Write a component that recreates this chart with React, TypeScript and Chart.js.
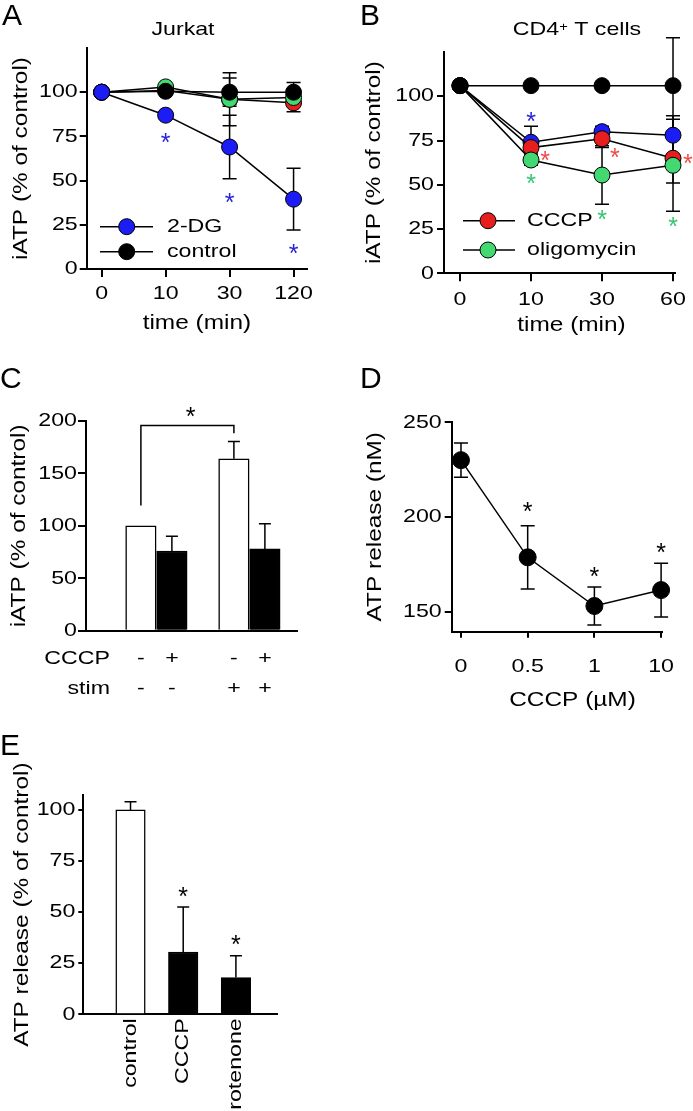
import React, { useEffect, useRef } from 'react';
import { Chart, registerables } from 'chart.js';

Chart.register(...registerables);

const FAMILY = '"Liberation Sans", Arial, Helvetica, sans-serif';
const TICK_SIZE = 19;
const TITLE_SIZE = 20;
const SX = 1.22;

const BLUE = '#1c1cf5';
const RED = '#e61e1e';
const GREEN = '#42d872';
const STAR_BLUE = '#2626d6';
const STAR_RED = '#ef4b4b';
const STAR_GREEN = '#36c574';

// ---------------- Panel A (Jurkat) ----------------
const timeA = ['0', '10', '30', '120'];
const a2DG = [100, 87, 69, 39.5];
const a2DGErr = [0, 2, 18, 17.5];
const aControl = [100, 100.5, 100, 100];
const aControlErr = [0, 1, 8, 5.5];
const aOligomycin = [100, 103, 96, 97];
const aOligomycinErr = [0, 1, 15, 3];
const aCCCP = [100, 101, 96, 94];
const aCCCPErr = [0, 1, 3, 5];
const aStars2DG = [[1, 75], [2, 41], [3, 12.5]];

// ---------------- Panel B (CD4+ T cells) ----------------
const timeB = ['0', '10', '30', '60'];
const bControl = [106, 106, 106, 106];
const bControlErr = [0, 1, 2, 27];
const b2DG = [106, 74, 80, 78];
const b2DGErr = [0, 9, 3, 11];
const bCCCP = [106, 71, 76, 65];
const bCCCPErr = [0, 3, 5, 14];
const bOligomycin = [106, 64, 55.5, 61];
const bOligomycinErr = [0, 3, 16.5, 26];
const bStars2DG = [[1, 89]];
const bStarsCCCP = [[1.2, 67], [2.18, 69], [3.21, 65.5]];
const bStarsOligomycin = [[1, 54], [2, 33.7], [3, 30]];

// ---------------- Panel C ----------------
const cRowCCCP = ['-', '+', '-', '+'];
const cRowStim = ['-', '-', '+', '+'];
const cPositions = [1, 2, 4, 5];
const cValues = [100, 76, 164, 78];
const cErr = [0, 14, 16.5, 24];
const cBracketX = [1, 4];
const cBracketY = [119.3, 195.6, 188.4];
const cStar = [2.6, 210.6];

// ---------------- Panel D ----------------
const dDoses = ['0', '0.5', '1', '10'];
const dValues = [230, 178.7, 153, 161.4];
const dErr = [9, 16.7, 10, 14.2];
const dStars = [[1, 206.3], [2, 171.6], [3, 184.7]];

// ---------------- Panel E ----------------
const eCategories = ['control', 'CCCP', 'rotenone'];
const eValues = [100, 30.5, 18];
const eErr = [4, 22, 10.7];
const eStars = [[1, 60.8], [2, 37.2]];

// ---------------- helpers ----------------
function patchContext(canvas: HTMLCanvasElement) {
  const ctx = canvas.getContext('2d') as any;
  if (ctx.__patched) return ctx;
  const raw = ctx.fillText.bind(ctx);
  ctx.__sx = SX;
  ctx.fillText = function (t: string, x: number, y: number) {
    const sx = ctx.__sx;
    if (sx === 1) return raw(t, x, y);
    ctx.save();
    ctx.translate(x, y);
    ctx.scale(sx, 1);
    raw(t, 0, 0);
    ctx.restore();
  };
  ctx.__patched = true;
  return ctx;
}

const fnt = (size: number) => ({ family: FAMILY, size });

function yAxis(o: any) {
  return {
    type: 'linear',
    position: 'left',
    min: o.min,
    max: o.max,
    afterFit: (s: any) => { s.width = o.width; },
    afterBuildTicks: (s: any) => { s.ticks = o.ticks.map((v: number) => ({ value: v })); },
    ticks: { color: '#000', font: fnt(TICK_SIZE), padding: o.pad, autoSkip: false },
    grid: { display: true, drawOnChartArea: false, drawTicks: true, tickLength: o.tl, color: '#000', lineWidth: 2, tickWidth: 2, tickColor: '#000' },
    border: { display: true, color: '#000', width: 2 },
    title: { display: true, text: o.title, color: '#000', font: fnt(TITLE_SIZE), padding: { top: o.tpt, bottom: 0 } },
  };
}

function xAxis(o: any) {
  return {
    type: 'linear',
    position: 'bottom',
    min: o.min,
    max: o.max,
    offset: false,
    afterFit: (s: any) => { s.height = o.height; },
    afterBuildTicks: (s: any) => { s.ticks = o.ticks.map((v: number) => ({ value: v })); },
    ticks: {
      display: !!o.labels,
      color: '#000',
      font: fnt(TICK_SIZE),
      padding: o.pad,
      autoSkip: false,
      minRotation: o.rotate || 0,
      maxRotation: o.rotate || 0,
      callback: (v: number) => {
        const i = o.ticks.indexOf(v);
        return o.labels && i >= 0 ? o.labels[i] : '';
      },
    },
    grid: { display: true, drawOnChartArea: false, drawTicks: o.tl > 0, tickLength: o.tl, color: '#000', lineWidth: 2, tickWidth: 2, tickColor: '#000', offset: false },
    border: { display: true, color: '#000', width: 2 },
    title: { display: !!o.title, text: o.title || '', color: '#000', font: fnt(TITLE_SIZE), padding: { top: 0, bottom: o.tpb || 0 } },
  };
}

function baseOptions(padding: any, scales: any) {
  return {
    animation: false,
    responsive: false,
    maintainAspectRatio: false,
    events: [],
    layout: { padding },
    plugins: { legend: { display: false }, tooltip: { enabled: false }, title: { display: false } },
    scales,
  };
}

function lineSet(label: string, ys: number[], color: string, radius = 8) {
  return {
    label,
    data: ys.map((y, i) => ({ x: i, y })),
    borderColor: '#000',
    borderWidth: 1.5,
    backgroundColor: color,
    pointRadius: radius,
    pointHoverRadius: radius,
    pointBackgroundColor: color,
    pointBorderColor: '#000',
    pointBorderWidth: 1,
    tension: 0,
    fill: false,
    clip: false,
  };
}

function errPlugin(sets: { ds: number; err: number[]; down: boolean; cap: number }[], after: boolean) {
  const draw = (chart: any) => {
    const { ctx } = chart;
    const xs = chart.scales.x;
    const ys = chart.scales.y;
    ctx.save();
    ctx.strokeStyle = '#000';
    ctx.lineWidth = 1.5;
    for (const s of sets) {
      const data = chart.data.datasets[s.ds].data as { x: number; y: number }[];
      data.forEach((p, i) => {
        const e = s.err[i];
        if (!e) return;
        const x = xs.getPixelForValue(p.x);
        const top = ys.getPixelForValue(p.y + e);
        const bot = ys.getPixelForValue(s.down ? p.y - e : p.y);
        ctx.beginPath();
        ctx.moveTo(x, top);
        ctx.lineTo(x, bot);
        ctx.moveTo(x - s.cap, top);
        ctx.lineTo(x + s.cap, top);
        if (s.down) {
          ctx.moveTo(x - s.cap, bot);
          ctx.lineTo(x + s.cap, bot);
        }
        ctx.stroke();
      });
    }
    ctx.restore();
  };
  return after ? { id: 'errAfter', afterDatasetsDraw: draw } : { id: 'errBefore', beforeDatasetsDraw: draw };
}

function text(ctx: any, s: string, x: number, y: number, size: number, align = 'left', baseline = 'alphabetic', color = '#000', sx = SX) {
  ctx.save();
  ctx.__sx = sx;
  ctx.font = `${size}px ${FAMILY}`;
  ctx.fillStyle = color;
  ctx.textAlign = align;
  ctx.textBaseline = baseline;
  ctx.fillText(s, x, y);
  ctx.restore();
  ctx.__sx = SX;
}

function panelLetter(ctx: any, s: string, x: number, y: number) {
  text(ctx, s, x, y, 30, 'left', 'alphabetic', '#000', 1);
}

function stars(chart: any, pts: number[][], color: string) {
  const ctx = chart.ctx;
  for (const [vx, vy] of pts) {
    const x = chart.scales.x.getPixelForValue(vx);
    const y = chart.scales.y.getPixelForValue(vy);
    text(ctx, '*', x, y + 0.585 * 25, 25, 'center', 'alphabetic', color, 1);
  }
}

function legend(ctx: any, rows: { label: string; color: string; y: number }[], x1: number, x2: number, xm: number, xt: number) {
  for (const r of rows) {
    ctx.save();
    ctx.strokeStyle = '#000';
    ctx.lineWidth = 1.5;
    ctx.beginPath();
    ctx.moveTo(x1, r.y);
    ctx.lineTo(x2, r.y);
    ctx.stroke();
    ctx.beginPath();
    ctx.arc(xm, r.y, 8, 0, Math.PI * 2);
    ctx.fillStyle = r.color;
    ctx.fill();
    ctx.lineWidth = 1;
    ctx.stroke();
    ctx.restore();
    text(ctx, r.label, xt, r.y, TICK_SIZE, 'left', 'middle');
  }
}

function extras(fn: (chart: any) => void) {
  return { id: 'extras', afterDraw: (chart: any) => fn(chart) };
}

// ---------------- chart configs ----------------
function configA(): any {
  return {
    type: 'line',
    data: {
      datasets: [
        lineSet('2-DG', a2DG, BLUE),
        lineSet('control', aControl, '#000'),
        lineSet('oligomycin', aOligomycin, GREEN),
        lineSet('CCCP', aCCCP, RED),
      ],
    },
    options: baseOptions({ top: 48, left: 0, right: 38, bottom: 0 }, {
      x: xAxis({ min: -0.234, max: 3.21, ticks: [0, 1, 2, 3], labels: timeA, height: 81, tl: 8, pad: 5.6, title: 'time (min)', tpb: 15 }),
      y: yAxis({ min: 0, max: 125, ticks: [0, 25, 50, 75, 100], width: 86.7, tl: 7, pad: 2, title: 'iATP (% of control)', tpt: 9 }),
    }),
    plugins: [
      errPlugin([
        { ds: 0, err: a2DGErr, down: true, cap: 7 },
        { ds: 1, err: aControlErr, down: true, cap: 7 },
        { ds: 2, err: aOligomycinErr, down: true, cap: 7 },
        { ds: 3, err: aCCCPErr, down: true, cap: 7 },
      ], false),
      extras((chart) => {
        const ctx = chart.ctx;
        panelLetter(ctx, 'A', 2, 25);
        text(ctx, 'Jurkat', 183, 35, TICK_SIZE, 'center');
        stars(chart, aStars2DG, STAR_BLUE);
        legend(ctx, [
          { label: '2-DG', color: BLUE, y: 226.7 },
          { label: 'control', color: '#000', y: 251.7 },
        ], 100, 153, 126.7, 167);
      }),
    ],
  };
}

function configB(): any {
  return {
    type: 'line',
    data: {
      datasets: [
        lineSet('control', bControl, '#000'),
        lineSet('oligomycin', bOligomycin, GREEN),
        lineSet('CCCP', bCCCP, RED),
        lineSet('2-DG', b2DG, BLUE),
      ],
    },
    options: baseOptions({ top: 52, left: 0, right: 18, bottom: 0 }, {
      x: xAxis({ min: -0.2254, max: 3.028, ticks: [0, 1, 2, 3], labels: timeB, height: 76.7, tl: 8, pad: 6.8 }),
      y: yAxis({ min: 0, max: 125, ticks: [0, 25, 50, 75, 100], width: 99, tl: 7, pad: 3, title: 'iATP (% of control)', tpt: 17 }),
    }),
    plugins: [
      errPlugin([
        { ds: 0, err: bControlErr, down: true, cap: 7 },
        { ds: 1, err: bOligomycinErr, down: true, cap: 7 },
        { ds: 2, err: bCCCPErr, down: true, cap: 7 },
        { ds: 3, err: b2DGErr, down: true, cap: 7 },
      ], false),
      extras((chart) => {
        const ctx = chart.ctx;
        panelLetter(ctx, 'B', 15, 25);
        // title with superscript
        ctx.save();
        ctx.font = `${TICK_SIZE}px ${FAMILY}`;
        const w1 = ctx.measureText('CD4').width * SX;
        const w3 = ctx.measureText(' T cells').width * SX;
        ctx.font = `12px ${FAMILY}`;
        const w2 = ctx.measureText('+').width * SX;
        ctx.restore();
        const x0 = 232 - (w1 + w2 + w3) / 2;
        text(ctx, 'CD4', x0, 35, TICK_SIZE);
        text(ctx, '+', x0 + w1, 31, 12);
        text(ctx, ' T cells', x0 + w1 + w2, 35, TICK_SIZE);
        text(ctx, 'time (min)', 226.5, 325, TITLE_SIZE, 'center', 'middle');
        stars(chart, bStars2DG, STAR_BLUE);
        stars(chart, bStarsCCCP, STAR_RED);
        stars(chart, bStarsOligomycin, STAR_GREEN);
        legend(ctx, [
          { label: 'CCCP', color: RED, y: 220.7 },
          { label: 'oligomycin', color: GREEN, y: 250 },
        ], 118, 170, 143, 182);
      }),
    ],
  };
}

function configC(): any {
  return {
    type: 'bar',
    data: {
      datasets: [{
        label: 'iATP',
        data: cPositions.map((x, i) => ({ x, y: cValues[i] })),
        backgroundColor: cRowCCCP.map((s) => (s === '+' ? '#000' : '#fff')),
        borderColor: '#000',
        borderWidth: 1.5,
        barThickness: 30.5,
        clip: false,
      }],
    },
    options: baseOptions({ top: 66, left: 0, right: 48.3, bottom: 0 }, {
      x: xAxis({ min: -0.771, max: 6.026, ticks: cPositions, labels: null, height: 84.3, tl: 0, pad: 0 }),
      y: yAxis({ min: 0, max: 200, ticks: [0, 50, 100, 150, 200], width: 86, tl: 8, pad: 1, title: 'iATP (% of control)', tpt: 7 }),
    }),
    plugins: [
      errPlugin([{ ds: 0, err: cErr, down: false, cap: 6 }], true),
      extras((chart) => {
        const ctx = chart.ctx;
        const xs = chart.scales.x;
        const ys = chart.scales.y;
        panelLetter(ctx, 'C', 0, 33);
        // significance bracket
        const xa = xs.getPixelForValue(cBracketX[0]);
        const xb = xs.getPixelForValue(cBracketX[1]);
        ctx.save();
        ctx.strokeStyle = '#000';
        ctx.lineWidth = 1.5;
        ctx.beginPath();
        ctx.moveTo(xa, ys.getPixelForValue(cBracketY[0]));
        ctx.lineTo(xa, ys.getPixelForValue(cBracketY[1]));
        ctx.lineTo(xb, ys.getPixelForValue(cBracketY[1]));
        ctx.lineTo(xb, ys.getPixelForValue(cBracketY[2]));
        ctx.stroke();
        ctx.restore();
        stars(chart, [cStar], '#000');
        // condition rows
        text(ctx, 'CCCP', 110, 304, TICK_SIZE, 'right', 'middle');
        text(ctx, 'stim', 110, 334, TICK_SIZE, 'right', 'middle');
        cPositions.forEach((p, i) => {
          const x = xs.getPixelForValue(p);
          text(ctx, cRowCCCP[i], x, 304, TICK_SIZE, 'center', 'middle');
          text(ctx, cRowStim[i], x, 334, TICK_SIZE, 'center', 'middle');
        });
      }),
    ],
  };
}

function configD(): any {
  return {
    type: 'line',
    data: { datasets: [lineSet('ATP release', dValues, '#000', 8.5)] },
    options: baseOptions({ top: 66.7, left: 0, right: 31.3, bottom: 0 }, {
      x: xAxis({ min: -0.139, max: 3.009, ticks: [0, 1, 2, 3], labels: dDoses, height: 93.3, tl: 6, pad: 17.9 }),
      y: yAxis({ min: 139.44, max: 250.3, ticks: [150, 200, 250], width: 106.7, tl: 7, pad: 3, title: 'ATP release (nM)', tpt: 18 }),
    }),
    plugins: [
      errPlugin([{ ds: 0, err: dErr, down: true, cap: 7 }], false),
      extras((chart) => {
        const ctx = chart.ctx;
        panelLetter(ctx, 'D', 15, 33);
        text(ctx, 'CCCP (\u00b5M)', 227.5, 345.5, TITLE_SIZE, 'center', 'middle');
        stars(chart, dStars, '#000');
      }),
    ],
  };
}

function configE(): any {
  return {
    type: 'bar',
    data: {
      datasets: [{
        label: 'ATP release',
        data: eValues.map((y, i) => ({ x: i, y })),
        backgroundColor: eValues.map((_, i) => (i === 0 ? '#fff' : '#000')),
        borderColor: '#000',
        borderWidth: 1.5,
        barThickness: 29.5,
        clip: false,
      }],
    },
    options: baseOptions({ top: 75, left: 0, right: 68.3, bottom: 0 }, {
      x: xAxis({ min: -0.896, max: 2.774, ticks: [0, 1, 2], labels: eCategories, height: 96.7, tl: 0, pad: 4, rotate: 90 }),
      y: yAxis({ min: 0, max: 107.3, ticks: [0, 25, 50, 75, 100], width: 83.3, tl: 5, pad: 3, title: 'ATP release (% of control)', tpt: 10.5 }),
    }),
    plugins: [
      errPlugin([{ ds: 0, err: eErr, down: false, cap: 6 }], true),
      extras((chart) => {
        const ctx = chart.ctx;
        panelLetter(ctx, 'E', 0, 35);
        stars(chart, eStars, '#000');
      }),
    ],
  };
}

export default function App() {
  const refA = useRef<HTMLCanvasElement>(null);
  const refB = useRef<HTMLCanvasElement>(null);
  const refC = useRef<HTMLCanvasElement>(null);
  const refD = useRef<HTMLCanvasElement>(null);
  const refE = useRef<HTMLCanvasElement>(null);

  useEffect(() => {
    const pairs: [HTMLCanvasElement | null, () => any][] = [
      [refA.current, configA],
      [refB.current, configB],
      [refC.current, configC],
      [refD.current, configD],
      [refE.current, configE],
    ];
    const charts: Chart[] = [];
    for (const [cv, cfg] of pairs) {
      if (!cv) continue;
      patchContext(cv);
      charts.push(new Chart(cv, cfg()));
    }
    return () => charts.forEach((c) => c.destroy());
  }, []);

  const abs = (left: number, top: number): React.CSSProperties => ({ position: 'absolute', left, top });

  return (
    <div style={{ position: 'absolute', left: 0, top: 0, width: 693, height: 1111, background: '#fff', overflow: 'hidden' }}>
      <canvas ref={refA} width={345} height={350} style={abs(0, 0)} />
      <canvas ref={refB} width={348} height={350} style={abs(345, 0)} />
      <canvas ref={refC} width={345} height={360} style={abs(0, 355)} />
      <canvas ref={refD} width={348} height={370} style={abs(345, 355)} />
      <canvas ref={refE} width={345} height={391} style={abs(0, 720)} />
    </div>
  );
}
